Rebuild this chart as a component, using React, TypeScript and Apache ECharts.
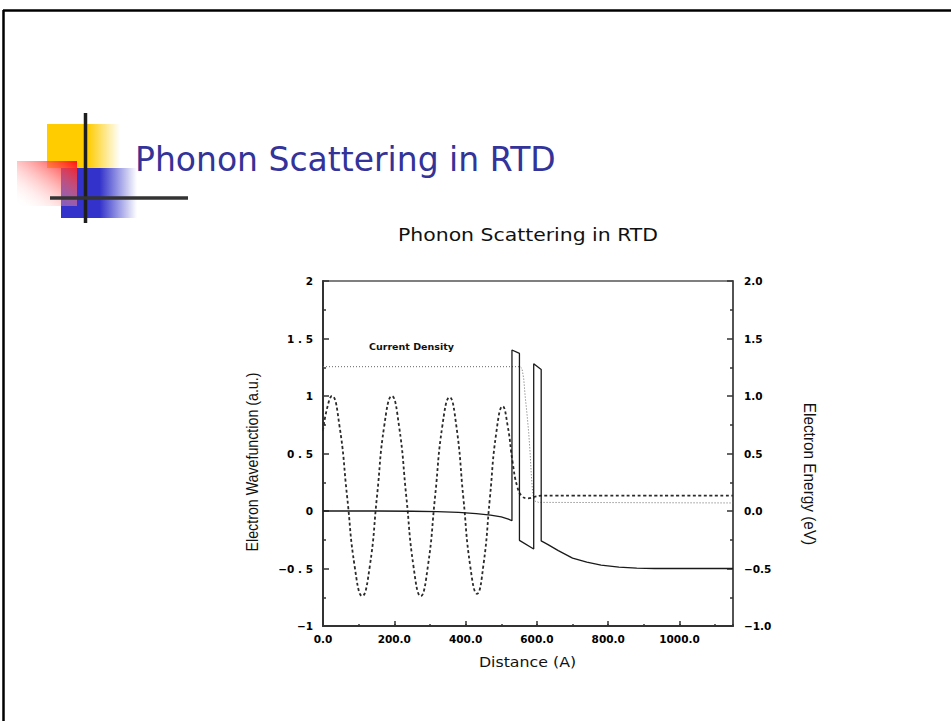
import React, { useEffect, useRef } from "react";
import * as echarts from "echarts";

// ---------- text ----------
const slideTitle = "Phonon Scattering in RTD";
const chartTitle = "Phonon Scattering in RTD";
const xAxisName = "Distance (A)";
const leftAxisName = "Electron Wavefunction (a.u.)";
const rightAxisName = "Electron Energy (eV)";
const annotation = "Current Density";

// ---------- axes ----------
const xRange = [0, 1150];
const xTickValues = [0, 200, 400, 600, 800, 1000];
const xTickLabels = ["0.0", "200.0", "400.0", "600.0", "800.0", "1000.0"];
const yRange = [-1, 2];
const yTickValues = [-1, -0.5, 0, 0.5, 1, 1.5, 2];
const leftTickLabels = ["\u22121", "\u22120 . 5", "0", "0 . 5", "1", "1 . 5", "2"];
const rightTickLabels = ["\u22121.0", "\u22120.5", "0.0", "0.5", "1.0", "1.5", "2.0"];

// ---------- data (distance A, value) ----------
const wavefunction: [number, number][] = [
  [0, 0.7], [12, 0.9], [25, 1.0], [46, 0.745], [67.5, 0.13], [89, -0.485],
  [110, -0.74], [131, -0.485], [151.5, 0.13], [172, 0.745], [193, 1.0],
  [213, 0.745], [233.5, 0.13], [254, -0.485], [274, -0.74], [294, -0.485],
  [314.5, 0.13], [335, 0.745], [355, 0.99], [374, 0.74], [393.5, 0.12],
  [413, -0.48], [432, -0.72], [450, -0.47], [468, 0.11], [486, 0.68],
  [504, 0.91], [518, 0.74], [532, 0.42], [545, 0.21], [558, 0.13],
  [575, 0.11], [595, 0.125], [620, 0.134], [650, 0.134], [700, 0.134],
  [800, 0.134], [900, 0.134], [1000, 0.134], [1150, 0.134],
];

const currentDensity: [number, number][] = [
  [0, 1.255], [553, 1.255], [558, 1.24], [563, 1.15], [567, 1.0], [572, 0.85],
  [577, 0.68], [581, 0.5], [584, 0.33], [587, 0.2], [590, 0.12], [595, 0.085],
  [605, 0.075], [1150, 0.07],
];

const potential: [number, number][] = [
  [0, 0], [150, 0], [250, -0.002], [320, -0.006], [380, -0.012], [430, -0.022],
  [470, -0.035], [500, -0.052], [520, -0.07], [530, -0.085], [530, 1.4],
  [551, 1.37], [551, -0.255], [591, -0.33], [591, 1.28], [612, 1.23],
  [612, -0.26], [630, -0.29], [660, -0.345], [700, -0.41], [740, -0.445],
  [780, -0.47], [830, -0.488], [880, -0.497], [930, -0.5], [1150, -0.5],
];

const labelFor = (values: number[], labels: string[]) => (v: number) => {
  const i = values.findIndex((t) => Math.abs(t - v) < 1e-6);
  return i >= 0 ? labels[i] : "";
};

const tickFont = { color: "#000", fontSize: 10.5, fontWeight: "bold", fontFamily: "DejaVu Sans" };

export default function App() {
  const ref = useRef<HTMLDivElement>(null);
  useEffect(() => {
    if (!ref.current) return;
    const chart = echarts.init(ref.current, undefined, { renderer: "svg" });
    const LG = echarts.graphic.LinearGradient;
    const option: any = {
      animation: false,
      backgroundColor: "#fff",
      grid: {
        left: 323, top: 281, right: 218, bottom: 95,
        show: true, borderColor: "#555", borderWidth: 1.5,
        containLabel: false, outerBoundsMode: "none",
      },
      xAxis: [
        {
          type: "value", min: xRange[0], max: xRange[1], interval: 200, position: "bottom",
          axisLine: { show: true, onZero: false, lineStyle: { color: "#333", width: 2 } },
          axisTick: { show: true, inside: true, length: 5, lineStyle: { color: "#333", width: 1.5 } },
          axisLabel: { ...tickFont, margin: 7, showMaxLabel: false, formatter: labelFor(xTickValues, xTickLabels) },
          splitLine: { show: false },
        },
        {
          type: "value", min: xRange[0], max: xRange[1], interval: 100, position: "bottom",
          axisLine: { show: false, onZero: false },
          axisTick: { show: true, inside: true, length: 2, lineStyle: { color: "#333", width: 1.5 } },
          axisLabel: { show: false },
          splitLine: { show: false },
        },
      ],
      yAxis: [
        {
          type: "value", min: yRange[0], max: yRange[1], interval: 0.5, position: "left",
          axisLine: { show: true, onZero: false, lineStyle: { color: "#333", width: 2 } },
          axisTick: { show: true, inside: true, length: 6, lineStyle: { color: "#333", width: 1.5 } },
          minorTick: { show: true, splitNumber: 2, length: 3, lineStyle: { color: "#333", width: 1.5 } },
          axisLabel: { ...tickFont, margin: 10, formatter: labelFor(yTickValues, leftTickLabels) },
          splitLine: { show: false }, minorSplitLine: { show: false },
        },
        {
          type: "value", min: yRange[0], max: yRange[1], interval: 0.5, position: "right",
          axisLine: { show: true, onZero: false, lineStyle: { color: "#444", width: 1.5 } },
          axisTick: { show: true, inside: true, length: 6, lineStyle: { color: "#333", width: 1.5 } },
          minorTick: { show: true, splitNumber: 2, length: 3, lineStyle: { color: "#333", width: 1.5 } },
          axisLabel: { ...tickFont, margin: 11, formatter: labelFor(yTickValues, rightTickLabels) },
          splitLine: { show: false }, minorSplitLine: { show: false },
        },
      ],
      series: [
        {
          name: "Wavefunction", type: "line", data: wavefunction, smooth: 0.5,
          xAxisIndex: 0, yAxisIndex: 0, symbol: "none",
          lineStyle: { color: "#2a2a2a", width: 1.8, type: [3, 2.5] },
        },
        {
          name: "Current Density", type: "line", data: currentDensity,
          xAxisIndex: 0, yAxisIndex: 0, symbol: "none",
          lineStyle: { color: "#666", width: 1, type: [1, 2] },
        },
        {
          name: "Potential", type: "line", data: potential,
          xAxisIndex: 0, yAxisIndex: 1, symbol: "none",
          lineStyle: { color: "#1a1a1a", width: 1.3 },
        },
      ],
      graphic: [
        { type: "line", silent: true, shape: { x1: 3, y1: 10.5, x2: 951, y2: 10.5 }, style: { stroke: "#000", lineWidth: 2.5 } },
        { type: "line", silent: true, shape: { x1: 3.5, y1: 10, x2: 3.5, y2: 721 }, style: { stroke: "#000", lineWidth: 2.5 } },
        {
          type: "rect", silent: true, shape: { x: 47, y: 124, width: 73, height: 44 },
          style: { fill: new LG(0, 0, 1, 0, [
            { offset: 0, color: "#FFCC00" }, { offset: 0.56, color: "#FFCC00" }, { offset: 1, color: "rgba(255,204,0,0)" },
          ]) },
        },
        {
          type: "rect", silent: true, shape: { x: 61, y: 168, width: 76, height: 50 },
          style: { fill: new LG(0, 0, 1, 0, [
            { offset: 0, color: "#3333CC" }, { offset: 0.51, color: "#3333CC" }, { offset: 1, color: "rgba(51,51,204,0)" },
          ]) },
        },
        {
          type: "rect", silent: true, shape: { x: 17, y: 161, width: 60, height: 45 },
          style: { fill: new LG(1, 0, 0, 1, [
            { offset: 0, color: "#FF1010" }, { offset: 1, color: "rgba(255,255,255,0)" },
          ]) },
        },
        { type: "line", silent: true, shape: { x1: 85.5, y1: 113, x2: 85.5, y2: 223 }, style: { stroke: "#1e1e1e", lineWidth: 3.5 } },
        { type: "line", silent: true, shape: { x1: 50, y1: 198, x2: 188, y2: 198 }, style: { stroke: "#333", lineWidth: 3.5 } },
        {
          type: "text", silent: true, x: 135, y: 159,
          style: { text: slideTitle, fill: "#333399", fontSize: 33, fontFamily: "DejaVu Sans", verticalAlign: "middle", align: "left" },
        },
        {
          type: "text", silent: true, x: 528, y: 235.5, scaleX: 1.2,
          style: { text: chartTitle, fill: "#111", fontSize: 17, fontFamily: "DejaVu Sans", verticalAlign: "middle", align: "center" },
        },
        {
          type: "text", silent: true, x: 527.5, y: 661.5, scaleX: 1.17,
          style: { text: xAxisName, fill: "#111", fontSize: 13.5, fontFamily: "DejaVu Sans", verticalAlign: "middle", align: "center" },
        },
        {
          type: "text", silent: true, x: 252, y: 462, rotation: Math.PI / 2, scaleX: 0.89,
          style: { text: leftAxisName, fill: "#111", fontSize: 16, fontFamily: "Liberation Sans", verticalAlign: "middle", align: "center" },
        },
        {
          type: "text", silent: true, x: 810, y: 474, rotation: -Math.PI / 2, scaleX: 0.96,
          style: { text: rightAxisName, fill: "#111", fontSize: 16, fontFamily: "Liberation Sans", verticalAlign: "middle", align: "center" },
        },
        {
          type: "text", silent: true, x: 369, y: 346,
          style: { text: annotation, fill: "#111", fontSize: 9.5, fontWeight: "bold", fontFamily: "DejaVu Sans", verticalAlign: "middle", align: "left" },
        },
      ],
    };
    chart.setOption(option);
    return () => chart.dispose();
  }, []);
  return (
    <div
      ref={ref}
      style={{ position: "fixed", left: 0, top: 0, width: 951, height: 721, background: "#fff" }}
    />
  );
}
